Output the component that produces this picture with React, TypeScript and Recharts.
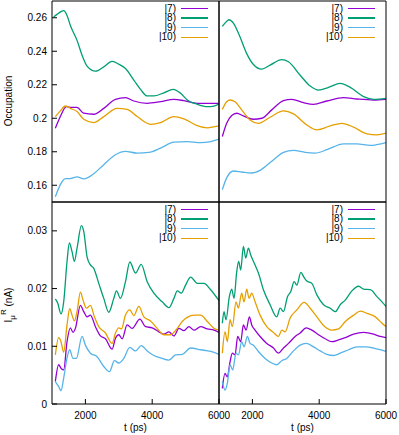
import React from "react";
import { Legend, Line, LineChart, XAxis, YAxis } from "recharts";

type Pt = [number, number];

const states = ["|7)", "|8)", "|9)", "|10)"];
const colors = ["#9400d3", "#009e73", "#56b4e9", "#e69f00"];

const timeTicks = [2000, 4000, 6000];
const occTicks = [0.16, 0.18, 0.2, 0.22, 0.24, 0.26];
const curTicks = [0, 0.01, 0.02, 0.03];

// occupation, left column
const occL7: Pt[] = [[1100, 0.194], [1250, 0.201], [1430, 0.2069], [1600, 0.2065], [1750, 0.2065], [1950, 0.203], [2250, 0.2024], [2550, 0.2059], [2900, 0.2113], [3200, 0.2123], [3450, 0.2103], [3850, 0.2089], [4250, 0.2099], [4650, 0.2113], [4950, 0.2105], [5350, 0.2089], [5650, 0.2089], [6000, 0.2089]];
const occL8: Pt[] = [[1050, 0.2604], [1150, 0.262], [1350, 0.2642], [1450, 0.2614], [1550, 0.2554], [1750, 0.2465], [1900, 0.2376], [2050, 0.2311], [2300, 0.2281], [2550, 0.2307], [2800, 0.2339], [3000, 0.2323], [3200, 0.2297], [3450, 0.2228], [3650, 0.2172], [3850, 0.2133], [4050, 0.2133], [4350, 0.2152], [4630, 0.2172], [4850, 0.2149], [5050, 0.2109], [5350, 0.2083], [5650, 0.2069], [5850, 0.2073], [6000, 0.2085]];
const occL9: Pt[] = [[1100, 0.1531], [1250, 0.1604], [1400, 0.164], [1550, 0.164], [1750, 0.165], [1950, 0.1638], [2250, 0.1669], [2550, 0.1723], [2900, 0.1782], [3200, 0.1802], [3550, 0.1792], [3900, 0.1796], [4250, 0.1822], [4650, 0.1857], [5050, 0.1861], [5450, 0.1855], [5750, 0.1861], [6000, 0.1875]];
const occL10: Pt[] = [[1100, 0.201], [1250, 0.2044], [1400, 0.2073], [1550, 0.2059], [1750, 0.204], [1950, 0.1994], [2250, 0.1974], [2550, 0.201], [2950, 0.2059], [3250, 0.2053], [3550, 0.201], [3950, 0.1964], [4250, 0.1974], [4650, 0.201], [4950, 0.1996], [5350, 0.1956], [5650, 0.1943], [6000, 0.1954]];

// occupation, right column
const occR7: Pt[] = [[1100, 0.1891], [1230, 0.197], [1380, 0.2016], [1530, 0.203], [1730, 0.2014], [2030, 0.1994], [2280, 0.2], [2580, 0.205], [2930, 0.2105], [3180, 0.2113], [3530, 0.2093], [3830, 0.2083], [4230, 0.2103], [4730, 0.2123], [5130, 0.2115], [5630, 0.2109], [6000, 0.2113]];
const occR8: Pt[] = [[1100, 0.2549], [1180, 0.2568], [1300, 0.2588], [1430, 0.2568], [1630, 0.2485], [1830, 0.2386], [2030, 0.2321], [2280, 0.2293], [2530, 0.2317], [2880, 0.235], [3080, 0.2337], [3430, 0.2257], [3730, 0.2192], [3980, 0.2168], [4280, 0.2184], [4630, 0.2208], [4930, 0.2184], [5330, 0.2129], [5630, 0.2113], [6000, 0.2119]];
const occR9: Pt[] = [[1100, 0.1574], [1230, 0.1644], [1430, 0.1685], [1680, 0.1679], [1980, 0.1673], [2230, 0.1689], [2580, 0.1743], [2930, 0.1796], [3230, 0.1808], [3580, 0.1796], [3880, 0.1792], [4230, 0.1812], [4730, 0.1847], [5130, 0.1847], [5530, 0.1838], [6000, 0.1855]];
const occR10: Pt[] = [[1100, 0.2053], [1230, 0.2099], [1330, 0.2109], [1480, 0.2099], [1680, 0.205], [1930, 0.199], [2180, 0.197], [2530, 0.2006], [2930, 0.2044], [3230, 0.2026], [3630, 0.196], [3930, 0.1931], [4330, 0.1954], [4680, 0.197], [5030, 0.1947], [5430, 0.1907], [5730, 0.1901], [6000, 0.1911]];

// current, left column
const curL7: Pt[] = [[1100, 0.0039], [1200, 0.0068], [1270, 0.0062], [1350, 0.0059], [1450, 0.0108], [1550, 0.0132], [1630, 0.0124], [1700, 0.0131], [1850, 0.0171], [1950, 0.016], [2050, 0.0151], [2150, 0.0154], [2300, 0.0134], [2450, 0.0118], [2600, 0.0113], [2800, 0.0095], [2900, 0.0114], [3000, 0.012], [3100, 0.0113], [3250, 0.0137], [3400, 0.0131], [3630, 0.0147], [3800, 0.0134], [4000, 0.0132], [4200, 0.0125], [4350, 0.0121], [4500, 0.0125], [4650, 0.0118], [4800, 0.0131], [4950, 0.0127], [5100, 0.0134], [5250, 0.0128], [5450, 0.0134], [5650, 0.013], [5850, 0.0128], [6000, 0.0124]];
const curL8: Pt[] = [[1100, 0.0182], [1170, 0.0175], [1270, 0.0156], [1350, 0.0177], [1450, 0.0247], [1520, 0.0279], [1600, 0.0264], [1670, 0.0247], [1750, 0.027], [1880, 0.0309], [1950, 0.0299], [2050, 0.0255], [2150, 0.0241], [2250, 0.0235], [2400, 0.0209], [2550, 0.0183], [2700, 0.0159], [2850, 0.0183], [2930, 0.0196], [3050, 0.0183], [3200, 0.0212], [3330, 0.0246], [3500, 0.0227], [3670, 0.0242], [3850, 0.0212], [4050, 0.0192], [4300, 0.0177], [4500, 0.0167], [4650, 0.0183], [4750, 0.0196], [4870, 0.0192], [5000, 0.0206], [5150, 0.022], [5350, 0.0209], [5550, 0.0209], [5750, 0.0198], [6000, 0.0179]];
const curL9: Pt[] = [[1100, 0.0039], [1200, 0.003], [1270, 0.0023], [1350, 0.0045], [1450, 0.008], [1530, 0.0094], [1630, 0.0079], [1730, 0.0079], [1900, 0.0117], [2000, 0.0102], [2150, 0.0088], [2350, 0.0082], [2550, 0.0065], [2720, 0.0056], [2870, 0.0075], [3000, 0.0071], [3150, 0.0079], [3330, 0.0098], [3500, 0.0092], [3670, 0.0101], [3850, 0.0092], [4050, 0.0084], [4250, 0.008], [4500, 0.0076], [4700, 0.0085], [4900, 0.0086], [5150, 0.0097], [5450, 0.0094], [5750, 0.0091], [6000, 0.0086]];
const curL10: Pt[] = [[1100, 0.0085], [1200, 0.0115], [1270, 0.0108], [1350, 0.009], [1450, 0.0137], [1530, 0.0165], [1600, 0.0154], [1670, 0.0144], [1750, 0.016], [1850, 0.0194], [1930, 0.018], [2030, 0.0166], [2150, 0.0171], [2270, 0.0151], [2400, 0.0134], [2600, 0.0123], [2800, 0.0105], [2900, 0.0123], [3000, 0.0132], [3080, 0.013], [3200, 0.0154], [3330, 0.0163], [3450, 0.0153], [3600, 0.0169], [3750, 0.0151], [3950, 0.0144], [4150, 0.0131], [4350, 0.012], [4550, 0.012], [4750, 0.0131], [4900, 0.0143], [5050, 0.015], [5250, 0.0154], [5450, 0.0154], [5650, 0.0143], [5850, 0.0131], [6000, 0.0128]];

// current, right column
const curR7: Pt[] = [[1100, 0.0027], [1180, 0.0053], [1250, 0.0047], [1330, 0.0073], [1400, 0.0088], [1480, 0.0085], [1560, 0.0117], [1650, 0.0108], [1730, 0.0137], [1810, 0.0128], [1910, 0.0151], [1980, 0.0137], [2080, 0.0128], [2230, 0.0117], [2430, 0.0105], [2630, 0.0097], [2780, 0.0088], [2930, 0.0097], [3080, 0.0105], [3280, 0.0117], [3430, 0.0123], [3610, 0.0132], [3780, 0.0128], [3980, 0.012], [4180, 0.0113], [4380, 0.0108], [4580, 0.0111], [4780, 0.0115], [5030, 0.0121], [5330, 0.0124], [5630, 0.0121], [5830, 0.0117], [6000, 0.0115]];
const curR8: Pt[] = [[1100, 0.014], [1150, 0.016], [1210, 0.0146], [1310, 0.0186], [1380, 0.0199], [1450, 0.0183], [1530, 0.0229], [1590, 0.0247], [1650, 0.0232], [1730, 0.0273], [1800, 0.0253], [1880, 0.027], [1950, 0.0258], [2080, 0.0241], [2180, 0.0227], [2330, 0.0198], [2530, 0.0172], [2730, 0.0151], [2830, 0.0166], [2930, 0.016], [3050, 0.0186], [3150, 0.0195], [3250, 0.0212], [3330, 0.0206], [3450, 0.0228], [3550, 0.0219], [3630, 0.0213], [3780, 0.0209], [3930, 0.0189], [4130, 0.0172], [4330, 0.0166], [4480, 0.016], [4630, 0.0172], [4780, 0.018], [4980, 0.0196], [5180, 0.0204], [5330, 0.0199], [5530, 0.0198], [5730, 0.0186], [5880, 0.0177], [6000, 0.0169]];
const curR9: Pt[] = [[1100, 0.0039], [1180, 0.0024], [1250, 0.0036], [1330, 0.0068], [1410, 0.0059], [1510, 0.0088], [1580, 0.0085], [1680, 0.0108], [1750, 0.0099], [1850, 0.0117], [1930, 0.0105], [2030, 0.0102], [2180, 0.0091], [2380, 0.0079], [2580, 0.0071], [2730, 0.0068], [2880, 0.0075], [3030, 0.0079], [3230, 0.0092], [3430, 0.0102], [3610, 0.0105], [3830, 0.0099], [4030, 0.0092], [4230, 0.0086], [4430, 0.0084], [4630, 0.0088], [4880, 0.0094], [5130, 0.0099], [5380, 0.0099], [5630, 0.0097], [5830, 0.0094], [6000, 0.0091]];
const curR10: Pt[] = [[1100, 0.0088], [1180, 0.0125], [1250, 0.0108], [1330, 0.0146], [1400, 0.0134], [1510, 0.0177], [1580, 0.0166], [1680, 0.0192], [1750, 0.0177], [1830, 0.0199], [1900, 0.0183], [1980, 0.0192], [2080, 0.0177], [2230, 0.0154], [2430, 0.0134], [2630, 0.0124], [2780, 0.0117], [2880, 0.0128], [2980, 0.0125], [3130, 0.0149], [3330, 0.0163], [3550, 0.0176], [3730, 0.0166], [3930, 0.0151], [4130, 0.0136], [4380, 0.0128], [4580, 0.013], [4780, 0.0143], [5030, 0.0154], [5230, 0.0161], [5430, 0.0157], [5680, 0.0151], [5880, 0.014], [6000, 0.0134]];

const FONT = "'Liberation Sans', Arial, sans-serif";
const tickStyle = { fill: "#000", fontSize: 10, fontFamily: FONT };
const black = { stroke: "#000" };

const rows = (pts: Pt[]) => pts.map(([t, v]) => ({ t, v }));

function KeyBox() {
  return (
    <div style={{ fontFamily: FONT, fontSize: 10, color: "#000" }}>
      {states.map((s, i) => (
        <div key={s} style={{ display: "flex", alignItems: "center", height: 9.6 }}>
          <span style={{ width: 47, textAlign: "right", lineHeight: "9.6px" }}>{s}</span>
          <span style={{ width: 5 }} />
          <span style={{ width: 27, height: 1.5, background: colors[i] }} />
        </div>
      ))}
    </div>
  );
}

function Panel({
  left,
  top,
  series,
  domain,
  yTicks,
  firstCol,
  bottomRow,
  yLabel,
}: {
  left: number;
  top: number;
  series: Pt[][];
  domain: [number, number];
  yTicks: number[];
  firstCol: boolean;
  bottomRow: boolean;
  yLabel?: (p: any) => React.ReactNode;
}) {
  // plot box: 167 wide; 201 (top row) or 202 (bottom row) high
  const yw = firstCol ? 52 : 1;
  const mr = firstCol ? 15 : 13;
  const mt = bottomRow ? 6 : 0;
  const xh = bottomRow ? 31 : 1;
  const plotW = 167;
  const plotH = bottomRow ? 202 : 201;
  const width = yw + plotW + 1 + mr;
  const height = mt + 1 + plotH + xh;
  return (
    <div style={{ position: "absolute", left: firstCol ? left : left - 1, top }}>
      <LineChart width={width} height={height} margin={{ top: mt, right: mr, bottom: 0, left: 0 }}>
        <XAxis
          xAxisId="b"
          type="number"
          dataKey="t"
          domain={[1000, 6000]}
          allowDataOverflow
          ticks={timeTicks}
          height={xh}
          tick={bottomRow ? tickStyle : false}
          tickSize={-5}
          tickMargin={13}
          stroke="#000"
          tickLine={black}
          axisLine={black}
          label={
            bottomRow
              ? { value: "t (ps)", position: "insideBottom", offset: 4, fill: "#000", fontSize: 10, fontFamily: FONT }
              : undefined
          }
        />
        <XAxis
          xAxisId="t"
          orientation="top"
          type="number"
          dataKey="t"
          domain={[1000, 6000]}
          allowDataOverflow
          ticks={timeTicks}
          height={1}
          tick={false}
          tickSize={-5}
          stroke="#000"
          axisLine={black}
          tickLine={black}
        />
        <YAxis
          yAxisId="l"
          type="number"
          domain={domain}
          allowDataOverflow
          ticks={yTicks}
          width={yw}
          tick={firstCol ? tickStyle : false}
          tickSize={-5}
          tickMargin={10}
          stroke="#000"
          axisLine={black}
          tickLine={black}
          label={yLabel ? { content: yLabel } : undefined}
        />
        <YAxis
          yAxisId="r"
          orientation="right"
          type="number"
          domain={domain}
          allowDataOverflow
          ticks={yTicks}
          width={1}
          tick={false}
          tickSize={-5}
          stroke="#000"
          axisLine={black}
          tickLine={black}
        />
        {series.map((pts, i) => (
          <Line
            key={states[i]}
            xAxisId="b"
            yAxisId="l"
            data={rows(pts)}
            dataKey="v"
            type="monotone"
            stroke={colors[i]}
            strokeWidth={1.3}
            dot={false}
            isAnimationActive={false}
          />
        ))}
        {series.map((pts, i) => (
          <Line
            key={"m" + states[i]}
            xAxisId="t"
            yAxisId="r"
            data={rows(pts)}
            dataKey="v"
            stroke="none"
            dot={false}
            legendType="none"
            isAnimationActive={false}
          />
        ))}
        <Legend
          layout="vertical"
          align="center"
          verticalAlign="middle"
          content={() => <KeyBox />}
          wrapperStyle={{ left: yw + plotW - 90, top: mt + 1 + 2.7, width: 79, height: 40 }}
        />
      </LineChart>
    </div>
  );
}

const occLabel = () => (
  <text x={12} y={101} transform="rotate(-90 12 101)" textAnchor="middle" fill="#000" fontSize={10} fontFamily={FONT}>
    Occupation
  </text>
);

const curLabel = () => (
  <text x={12} y={110} transform="rotate(-90 12 110)" textAnchor="middle" fill="#000" fontSize={10} fontFamily={FONT}>
    I
    <tspan dy={3} fontSize={8}>μ</tspan>
    <tspan dy={-9} fontSize={8}>R</tspan>
    <tspan dy={6}> (nA)</tspan>
  </text>
);

export default function App() {
  return (
    <div style={{ position: "absolute", left: 0, top: 0, width: 399, height: 435, background: "#fff", overflow: "hidden" }}>
      <Panel left={0} top={0} series={[occL7, occL8, occL9, occL10]} domain={[0.15, 0.27]} yTicks={occTicks} firstCol bottomRow={false} yLabel={occLabel} />
      <Panel left={219} top={0} series={[occR7, occR8, occR9, occR10]} domain={[0.15, 0.27]} yTicks={occTicks} firstCol={false} bottomRow={false} />
      <Panel left={0} top={195} series={[curL7, curL8, curL9, curL10]} domain={[0, 0.035]} yTicks={curTicks} firstCol bottomRow yLabel={curLabel} />
      <Panel left={219} top={195} series={[curR7, curR8, curR9, curR10]} domain={[0, 0.035]} yTicks={curTicks} firstCol={false} bottomRow />
    </div>
  );
}
